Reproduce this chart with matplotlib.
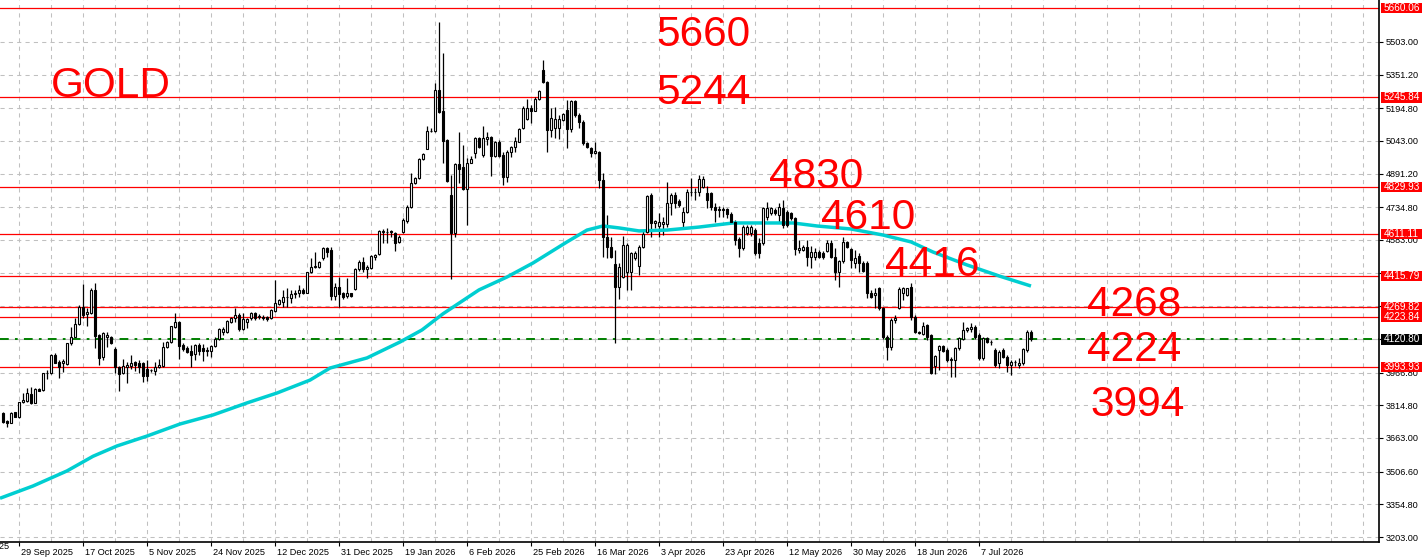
import numpy as np
import matplotlib
matplotlib.use("Agg")
import matplotlib.pyplot as plt
from matplotlib.patches import Rectangle
from matplotlib.transforms import ScaledTranslation, blended_transform_factory

# daily bars, bar 4 = 29 Sep 2025 (broker feed with Sunday bars)
opens = [
    3777, 3743, 3734, 3782, 3759, 3829, 3836, 3867, 3827, 3891,
    3886, 3963, 3963, 4049, 4018, 4013, 4005, 4103, 4134, 4193,
    4273, 4237, 4242, 4350, 4141, 4038, 4131, 4131, 4076, 3991,
    3963, 3994, 3997, 4014, 4010, 4013, 3982, 3980, 3976, 3994,
    3997, 4084, 4107, 4180, 4203, 4095, 4080, 4069, 4053, 4095,
    4080, 4067, 4067, 4092, 4121, 4157, 4157, 4203, 4222, 4234,
    4168, 4203, 4219, 4242, 4226, 4224, 4225, 4219, 4254, 4285,
    4296, 4318, 4315, 4333, 4335, 4350, 4338, 4433, 4458, 4456,
    4498, 4547, 4536, 4324, 4366, 4335, 4324, 4335, 4354, 4446,
    4479, 4446, 4451, 4505, 4516, 4621, 4622, 4623, 4614, 4572,
    4622, 4673, 4735, 4846, 4869, 4958, 5004, 5089, 5089, 5280,
    5184, 5047, 4792, 4617, 4936, 4923, 4818, 4942, 4985, 5055,
    4978, 5052, 5060, 4975, 5037, 4978, 4877, 4993, 5013, 5040,
    5105, 5145, 5195, 5184, 5238, 5373, 5315, 5094, 5102, 5102,
    5140, 5187, 5097, 5230, 5164, 5133, 5032, 5009, 4985, 4993,
    4862, 4598, 4552, 4472, 4363, 4410, 4436, 4436, 4498, 4462,
    4549, 4622, 4792, 4661, 4650, 4656, 4656, 4754, 4792, 4766,
    4668, 4712, 4805, 4808, 4805, 4831, 4800, 4800, 4738, 4726,
    4726, 4726, 4704, 4668, 4588, 4545, 4614, 4614, 4630, 4568,
    4568, 4689, 4707, 4720, 4700, 4730, 4715, 4707, 4684, 4537,
    4535, 4549, 4506, 4506, 4529, 4524, 4534, 4571, 4506, 4436,
    4483, 4575, 4540, 4475, 4509, 4475, 4475, 4335, 4328, 4358,
    4266, 4134, 4088, 4211, 4266, 4335, 4328, 4366, 4227, 4154,
    4147, 4188, 4142, 3998, 4072, 4090, 4072, 4029, 4026, 4080,
    4122, 4165, 4168, 4177, 4142, 4033, 4126, 4111, 4072, 4013,
    4072, 4041, 4002, 4018, 4002, 4010, 4072, 4157,
]
highs = [
    3785, 3745, 3785, 3785, 3832, 3870, 3897, 3898, 3895, 3895,
    3966, 3979, 4052, 4056, 4025, 4028, 4105, 4177, 4219, 4280,
    4378, 4265, 4358, 4381, 4145, 4157, 4154, 4138, 4087, 3999,
    4028, 4018, 4047, 4022, 4025, 4017, 4025, 3985, 4018, 4031,
    4110, 4114, 4185, 4245, 4206, 4106, 4090, 4095, 4100, 4103,
    4098, 4087, 4095, 4134, 4176, 4180, 4211, 4224, 4265, 4242,
    4242, 4222, 4248, 4250, 4240, 4235, 4232, 4261, 4397, 4310,
    4350, 4358, 4350, 4350, 4374, 4358, 4433, 4498, 4529, 4485,
    4552, 4552, 4552, 4381, 4412, 4343, 4405, 4338, 4451, 4490,
    4502, 4467, 4513, 4518, 4629, 4632, 4640, 4629, 4621, 4606,
    4683, 4745, 4893, 4876, 4962, 4986, 5112, 5101, 5314, 5597,
    5450, 5052, 4885, 4939, 5086, 5024, 4962, 4973, 5060, 5060,
    5112, 5086, 5066, 5043, 5047, 4993, 5001, 5019, 5063, 5102,
    5205, 5240, 5210, 5245, 5280, 5419, 5320, 5195, 5199, 5164,
    5175, 5233, 5233, 5233, 5171, 5140, 5040, 5016, 5040, 4996,
    4893, 4700, 4598, 4537, 4475, 4602, 4568, 4529, 4530, 4560,
    4630, 4792, 4800, 4676, 4707, 4692, 4854, 4800, 4808, 4772,
    4738, 4819, 4870, 4823, 4885, 4881, 4834, 4808, 4754, 4740,
    4735, 4730, 4715, 4676, 4599, 4653, 4653, 4652, 4637, 4591,
    4738, 4761, 4738, 4730, 4754, 4769, 4723, 4715, 4689, 4583,
    4560, 4583, 4555, 4545, 4535, 4530, 4583, 4583, 4545, 4490,
    4596, 4580, 4545, 4537, 4521, 4483, 4483, 4351, 4358, 4366,
    4273, 4142, 4219, 4235, 4366, 4363, 4362, 4382, 4235, 4160,
    4204, 4193, 4146, 4049, 4095, 4095, 4080, 4041, 4088, 4134,
    4204, 4180, 4199, 4188, 4149, 4130, 4134, 4118, 4080, 4072,
    4080, 4049, 4026, 4026, 4033, 4080, 4165, 4165,
]
lows = [
    3731, 3715, 3731, 3760, 3757, 3824, 3832, 3821, 3825, 3880,
    3883, 3939, 3960, 4010, 3943, 3971, 4000, 4095, 4130, 4188,
    4219, 4185, 4238, 4080, 4002, 4025, 4087, 4100, 3966, 3883,
    3960, 3917, 3982, 3976, 3966, 3925, 3928, 3970, 3956, 3990,
    3994, 4079, 4104, 4172, 4032, 4069, 4056, 3994, 4025, 4049,
    4022, 4044, 4038, 4087, 4118, 4141, 4152, 4199, 4202, 4162,
    4165, 4172, 4210, 4213, 4215, 4210, 4208, 4214, 4250, 4282,
    4273, 4273, 4289, 4312, 4320, 4332, 4335, 4428, 4451, 4453,
    4490, 4505, 4304, 4304, 4273, 4307, 4312, 4320, 4350, 4440,
    4436, 4405, 4448, 4490, 4513, 4567, 4570, 4598, 4533, 4567,
    4614, 4660, 4730, 4842, 4865, 4955, 5004, 5086, 5083, 5171,
    4939, 4854, 4400, 4595, 4846, 4815, 4652, 4939, 4962, 5010,
    4970, 5024, 4880, 4970, 4970, 4838, 4854, 4970, 4993, 5037,
    5097, 5140, 5125, 5180, 5233, 5310, 4993, 5063, 5055, 5052,
    5135, 5012, 5086, 5156, 5102, 5024, 5010, 4970, 4982, 4823,
    4502, 4498, 4497, 4103, 4308, 4405, 4351, 4351, 4490, 4421,
    4545, 4614, 4599, 4637, 4599, 4606, 4645, 4699, 4730, 4738,
    4645, 4707, 4785, 4769, 4785, 4823, 4730, 4723, 4668, 4692,
    4690, 4684, 4661, 4560, 4506, 4537, 4606, 4600, 4513, 4498,
    4560, 4676, 4700, 4699, 4661, 4637, 4645, 4676, 4514, 4521,
    4530, 4462, 4452, 4490, 4498, 4495, 4529, 4498, 4397, 4366,
    4475, 4545, 4452, 4452, 4436, 4436, 4312, 4312, 4266, 4258,
    4122, 4025, 4072, 4196, 4261, 4304, 4325, 4211, 4149, 4145,
    4142, 4118, 3959, 3959, 3979, 4064, 4018, 3948, 3948, 4072,
    4118, 4157, 4157, 4122, 4026, 4026, 4103, 4095, 3995, 3987,
    4033, 3971, 3956, 3998, 3987, 4002, 4064, 4114,
]
closes = [
    3739, 3734, 3781, 3762, 3829, 3839, 3870, 3827, 3891, 3883,
    3963, 3966, 4049, 4013, 3991, 4020, 4103, 4134, 4193, 4273,
    4234, 4247, 4350, 4138, 4036, 4149, 4141, 4106, 3991, 3960,
    3997, 4002, 4013, 4001, 3991, 3953, 3953, 3977, 3991, 4001,
    4087, 4107, 4182, 4200, 4092, 4076, 4064, 4049, 4095, 4069,
    4069, 4072, 4090, 4121, 4168, 4168, 4206, 4219, 4234, 4168,
    4214, 4214, 4242, 4219, 4230, 4222, 4216, 4258, 4289, 4304,
    4319, 4320, 4332, 4335, 4350, 4335, 4433, 4459, 4460, 4481,
    4544, 4529, 4324, 4366, 4332, 4316, 4335, 4324, 4446, 4479,
    4446, 4456, 4510, 4513, 4626, 4623, 4620, 4621, 4570, 4595,
    4676, 4735, 4846, 4869, 4958, 4982, 5089, 5089, 5280, 5179,
    5044, 4858, 4617, 4936, 4913, 4818, 4942, 4958, 5055, 5016,
    5055, 5060, 4975, 5037, 4975, 4877, 4993, 5016, 5043, 5097,
    5198, 5195, 5184, 5238, 5275, 5315, 5094, 5148, 5145, 5145,
    5168, 5097, 5229, 5164, 5133, 5032, 5016, 4985, 4996, 4862,
    4598, 4549, 4502, 4363, 4459, 4560, 4560, 4521, 4521, 4549,
    4611, 4788, 4661, 4672, 4665, 4668, 4754, 4792, 4754, 4746,
    4712, 4808, 4808, 4805, 4865, 4865, 4769, 4738, 4723, 4720,
    4720, 4704, 4668, 4583, 4545, 4645, 4645, 4645, 4521, 4521,
    4730, 4730, 4730, 4707, 4735, 4653, 4653, 4684, 4540, 4545,
    4549, 4506, 4529, 4529, 4506, 4503, 4571, 4506, 4436, 4483,
    4575, 4552, 4490, 4501, 4475, 4441, 4335, 4317, 4338, 4266,
    4134, 4088, 4211, 4219, 4354, 4358, 4358, 4227, 4157, 4150,
    4184, 4134, 3964, 4044, 4090, 4069, 4026, 4026, 4080, 4126,
    4165, 4173, 4180, 4134, 4033, 4126, 4111, 4110, 4002, 4064,
    4041, 4002, 4018, 4018, 4013, 4075, 4157, 4120.8,
]

# moving average (bar, price)
ma_bar = [-0.75, 7.5, 16, 22.5, 28.5, 36, 44.25, 52.5, 61, 68.5, 76.75, 81.75,
          91, 99.25, 104.75, 110, 119, 126, 132.5, 141, 146, 150, 154, 159, 166,
          174, 182.5, 191, 197.5, 203.5, 212, 220, 227, 232.5, 241, 249, 257]
ma_val = [3383, 3440, 3510, 3578, 3626, 3672, 3728, 3770, 3826, 3872, 3932, 3988,
          4035, 4109, 4165, 4240, 4351, 4411, 4476, 4574, 4629, 4648, 4639, 4625,
          4629, 4643, 4662, 4662, 4662, 4648, 4634, 4606, 4574, 4527, 4467, 4416,
          4369]

date_labels = ["29 Sep 2025", "17 Oct 2025", "5 Nov 2025", "24 Nov 2025",
               "12 Dec 2025", "31 Dec 2025", "19 Jan 2026", "6 Feb 2026",
               "25 Feb 2026", "16 Mar 2026", "3 Apr 2026", "23 Apr 2026",
               "12 May 2026", "30 May 2026", "18 Jun 2026", "7 Jul 2026"]
price_ticks = [5503.00, 5351.20, 5194.80, 5043.00, 4891.20, 4734.80, 4583.00,
               4431.20, 4274.80, 4123.00, 3966.80, 3814.80, 3663.00, 3506.60,
               3354.80, 3203.00]
# these tick labels sit fully under the level boxes on the price scale
hidden_ticks = [4431.20, 4274.80, 4123.00]
levels = [5660.06, 5245.84, 4829.93, 4611.11, 4415.79, 4269.82, 4223.84, 3993.93]
bid = 4120.80
notes = ["GOLD", "5660", "5244", "4830", "4610", "4416", "4268", "4224", "3994"]

plt.rcParams['font.family'] = ['Liberation Sans', 'DejaVu Sans']

W, H = 1427, 560
fig = plt.figure(figsize=(W / 100, H / 100), dpi=100)
ax = fig.add_axes([0, 18 / H, 1379 / W, 542 / H])
ax.set_xlim(-0.75, 344)
ax.set_ylim(3179.8, 5697.9)

# grid
for k in range(-4, 344, 8):
    ax.axvline(k, color='#c0c0c0', lw=0.75, ls=(0, (4, 4)), zorder=1)
for p in price_ticks:
    ax.axhline(p, color='#c0c0c0', lw=0.75, ls=(0, (4, 4)), zorder=1)

# levels
for lv in levels:
    ax.axhline(lv, color='#ff0000', lw=0.9, zorder=2)
ax.axhline(bid, color='#c0c0c0', lw=0.8, zorder=2)
ax.axhline(bid, color='#008000', lw=1.4, ls=(0, (4.5, 3.2, 1.4, 3.2)), zorder=2.1)

# candles
o = np.array(opens, float)
c = np.array(closes, float)
idx = np.arange(len(o))
up = c >= o
ax.vlines(idx, lows, highs, color='black', lw=0.9, zorder=3)
ax.bar(idx[up], (c - o)[up], bottom=o[up], width=0.55, facecolor='white',
       edgecolor='black', lw=0.8, zorder=4)
ax.bar(idx[~up], (o - c)[~up], bottom=c[~up], width=0.55, facecolor='black',
       edgecolor='black', lw=0.8, zorder=4)

ax.plot(ma_bar, ma_val, color='#00ced1', lw=2.5, zorder=3.5,
        solid_capstyle='butt')

# red notes
note_at = [(11.9, 5247), (163.4, 5484), (163.4, 5215), (191.4, 4824),
           (204.4, 4634), (220.6, 4416), (270.9, 4230), (270.9, 4021),
           (271.9, 3765)]
for t, (bx, by) in zip(notes, note_at):
    ax.text(bx, by, t, color='#ff0000', fontsize=30.5, va='baseline',
            ha='left', zorder=6)

# axes frame
for s in ['top', 'left']:
    ax.spines[s].set_visible(False)
ax.spines['right'].set_linewidth(1.2)
ax.spines['bottom'].set_linewidth(1.2)

ax.yaxis.tick_right()
ax.set_yticks(price_ticks)
ax.set_yticklabels(["" if p in hidden_ticks else f"{p:.2f}" for p in price_ticks])
ax.tick_params(axis='y', length=3, width=0.8, pad=2, labelsize=6.6)

date_pos = [4 + 16 * j for j in range(len(date_labels))]
ax.set_xticks(date_pos)
ax.set_xticklabels(date_labels)
ax.tick_params(axis='x', length=3, width=0.8, pad=1.5, labelsize=6.6)
shift = ScaledTranslation(2 / 100, 0, fig.dpi_scale_trans)
for lbl in ax.get_xticklabels():
    lbl.set_ha('left')
    lbl.set_va('top')
    lbl.set_transform(lbl.get_transform() + shift)
# label of the previous period, mostly off the left edge
bt = blended_transform_factory(ax.transData, ax.transAxes)
ax.text(-12, 0, "10 Sep 2025", transform=bt + shift, ha='left', va='top',
        fontsize=6.6, clip_on=False)

# price boxes on the right axis
rt = blended_transform_factory(ax.transAxes, ax.transData)
half = 5.2 * (5697.9 - 3179.8) / 542
bw = 41 / 1379
for lv, fc in [(v, '#ff0000') for v in levels] + [(bid, 'black')]:
    ax.add_patch(Rectangle((1 + 2 / 1379, lv - half), bw, 2 * half,
                           transform=rt, facecolor=fc, edgecolor='none',
                           clip_on=False, zorder=10))
    ax.text(1 + 2 / 1379 + bw / 2, lv, f"{lv:.2f}", transform=rt, ha='center',
            va='center', color='white', fontsize=7.2, zorder=11, clip_on=False)

fig.savefig("out.png", dpi=100)
